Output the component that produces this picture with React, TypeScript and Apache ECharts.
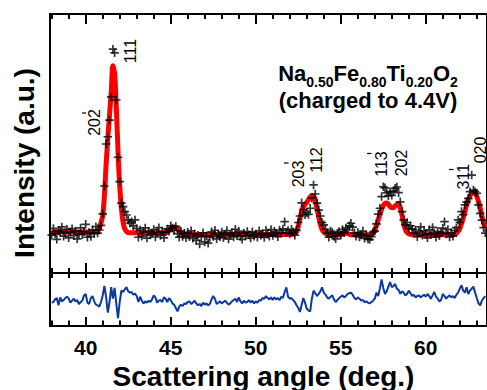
// XRD pattern with fit and difference curve (version 7)
import React, { useEffect, useRef } from "react";
import * as echarts from "echarts";

const xMin = 37.9;
const xMax = 63.6;
// Scan grid (deg.)
const angleStart = 38.0;
const angleStep = 0.1;

const majorTicks = [40, 45, 50, 55, 60];
const minorTicks = [38, 39, 41, 42, 43, 44, 46, 47, 48, 49, 51, 52, 53, 54, 56, 57, 58, 59, 61, 62, 63];
const allTicks = [38, 39, 40, 41, 42, 43, 44, 45, 46, 47, 48, 49, 50, 51, 52, 53, 54, 55, 56, 57, 58, 59, 60, 61, 62, 63];

// Observed intensity (a.u.), 38.0 .. 63.5 deg, one row per degree
const observed = [
  14.6, 17.2, 15.1, 13.0, 16.4, 15.9, 17.8, 14.2, 15.5, 16.9,
  13.6, 15.8, 17.1, 14.4, 16.2, 13.2, 15.0, 17.4, 14.8, 16.0,
  18.8, 13.8, 15.6, 14.1, 16.7, 15.2, 17.9, 15.4, 16.6, 18.4,
  22.8, 33.6, 49.8, 52.6, 59.0, 68.0, 86.4, 85.0, 66.8, 44.7,
  35.3, 27.0, 25.6, 23.7, 22.4, 20.4, 19.3, 19.8, 18.2, 20.5,
  17.2, 13.8, 16.6, 14.2, 15.9, 17.4, 13.5, 16.1, 14.7, 15.3,
  16.8, 13.9, 15.6, 17.5, 14.5, 16.0, 13.6, 15.8, 17.0, 16.1,
  18.2, 17.4, 16.4, 18.0, 15.2, 13.8, 16.2, 14.1, 15.4, 13.6,
  15.7, 14.0, 16.3, 13.4, 15.1, 12.6, 14.6, 11.2, 13.9, 15.5,
  12.0, 14.3, 11.5, 13.7, 15.9, 14.1, 16.5, 13.2, 15.0, 14.0,
  15.8, 13.6, 14.9, 16.4, 13.1, 14.8, 15.6, 13.9, 16.9, 14.4,
  16.2, 14.1, 13.0, 15.4, 14.3, 16.0, 14.7, 13.5, 15.9, 14.2,
  15.1, 13.8, 16.3, 14.6, 15.2, 13.7, 16.5, 15.0, 14.2, 16.8,
  14.5, 16.1, 15.3, 14.0, 16.6, 15.4, 17.0, 19.8, 15.6, 16.4,
  15.2, 16.9, 15.8, 14.6, 16.5, 19.5, 22.0, 27.1, 24.5, 22.5,
  23.3, 22.6, 25.0, 29.0, 34.0, 30.5, 27.0, 24.3, 22.0, 19.5,
  18.6, 16.9, 15.4, 13.8, 16.2, 15.6, 14.1, 13.2, 15.3, 16.0,
  14.6, 16.8, 15.5, 17.4, 16.6, 18.2, 19.2, 17.7, 15.4, 14.2,
  15.6, 13.9, 14.8, 16.2, 13.4, 14.5, 13.1, 12.9, 14.0, 15.8,
  16.2, 19.0, 22.7, 25.0, 29.5, 33.3, 32.9, 30.9, 29.8, 31.4,
  30.0, 31.6, 32.7, 33.2, 31.0, 27.5, 23.7, 20.5, 18.6, 19.5,
  17.2, 18.2, 17.0, 15.3, 16.6, 14.0, 15.9, 17.8, 14.6, 16.3,
  15.0, 13.6, 16.7, 14.9, 17.6, 15.4, 13.8, 16.1, 14.4, 15.7,
  17.3, 19.8, 15.1, 16.8, 13.9, 15.6, 14.2, 16.4, 17.5, 20.5,
  19.6, 23.7, 22.5, 26.3, 27.4, 28.8, 31.4, 37.8, 32.0, 31.4,
  30.8, 26.3, 23.0, 20.4, 17.5, 15.4,
];

// Calculated (fit) profile, same grid
const calculated = [
  15.8, 15.8, 15.8, 15.8, 15.8, 15.8, 15.8, 15.8, 15.8, 15.8,
  15.8, 15.8, 15.8, 15.8, 15.8, 15.8, 15.8, 15.8, 15.8, 15.8,
  15.8, 15.8, 15.8, 15.8, 15.8, 15.8, 15.9, 16.3, 17.3, 19.5,
  22.0, 30.0, 42.0, 52.0, 61.0, 70.0, 80.0, 77.0, 64.0, 47.0,
  33.5, 25.0, 19.5, 17.0, 16.0, 15.6, 15.5, 15.5, 15.5, 15.5,
  15.5, 15.5, 15.5, 15.5, 15.5, 15.5, 15.5, 15.5, 15.5, 15.5,
  15.5, 15.5, 15.5, 15.5, 15.5, 15.5, 15.5, 15.5, 15.8, 16.4,
  17.1, 17.6, 17.8, 17.7, 17.2, 16.4, 15.6, 15.1, 14.9, 14.9,
  14.9, 14.9, 14.9, 14.9, 14.9, 14.9, 14.9, 14.9, 14.9, 14.9,
  14.9, 14.9, 14.9, 14.9, 14.9, 14.9, 14.9, 14.9, 14.9, 14.9,
  14.9, 14.9, 14.9, 14.9, 14.9, 14.9, 14.9, 14.9, 14.9, 14.9,
  14.9, 14.9, 14.9, 14.9, 14.9, 14.9, 14.9, 14.9, 14.9, 14.9,
  14.9, 14.9, 14.9, 14.9, 14.9, 14.9, 14.9, 14.9, 14.9, 14.9,
  14.9, 14.9, 14.9, 14.9, 14.9, 14.9, 14.9, 14.9, 14.9, 14.9,
  14.9, 14.9, 15.0, 15.3, 16.0, 18.0, 21.0, 23.8, 25.6, 26.5,
  27.3, 28.3, 29.3, 30.0, 29.7, 28.0, 25.0, 21.8, 18.8, 16.8,
  15.8, 15.3, 15.0, 14.8, 14.8, 14.8, 14.8, 14.8, 14.8, 14.8,
  14.8, 15.0, 15.2, 15.3, 15.2, 15.0, 14.8, 14.8, 14.8, 14.8,
  14.8, 14.8, 14.8, 14.8, 14.8, 14.8, 14.8, 14.8, 14.8, 15.4,
  16.5, 18.3, 20.5, 22.6, 24.6, 26.0, 26.9, 27.0, 26.5, 25.7,
  25.2, 25.3, 25.9, 26.5, 26.6, 25.2, 22.5, 19.0, 16.8, 15.6,
  15.1, 14.9, 14.8, 14.8, 14.8, 14.8, 14.8, 14.8, 14.8, 14.8,
  14.8, 14.8, 14.8, 14.8, 14.8, 14.8, 14.8, 14.8, 14.8, 14.8,
  14.8, 14.8, 14.8, 14.8, 14.8, 14.8, 14.8, 15.0, 15.3, 16.0,
  17.2, 19.0, 21.2, 23.8, 26.2, 28.3, 29.8, 30.8, 31.2, 30.8,
  29.6, 27.5, 25.0, 22.0, 19.5, 17.5,
];

// Difference curve (lower panel), same grid
const difference = [
  -2.4, -1.9, 0.1, 1.1, -4.4, 1.6, -1.4, -0.4, 1.1, 2.1,
  0.6, -2.4, -0.9, 0.6, -1.4, -0.4, -3.4, -1.9, -0.9, 3.1,
  4.2, -2.4, -3.4, 1.1, 2.6, -1.4, -3.9, -4.4, -5.4, -1.9,
  3.1, 10.2, 1.9, -9.9, -1.9, 9.4, 0.6, 8.7, -3.1, -14.0,
  -1.9, 6.9, 5.7, 7.7, 9.4, 6.2, 5.2, 5.7, 3.6, 4.4,
  2.6, -1.9, 2.1, -0.9, -3.1, -1.4, -2.4, -0.9, -1.9, 0.1,
  3.1, 1.6, -2.4, -0.9, -0.4, -1.9, 1.6, 0.6, -1.9, 1.1,
  -0.4, -2.9, -3.9, -6.4, -8.9, -5.4, -3.9, -4.9, -2.9, -3.4,
  -1.9, -1.4, -3.4, -2.4, -0.9, -2.9, -4.4, -3.4, -4.9, -2.4,
  -3.9, -2.9, -4.4, -3.4, 0.1, 2.6, 0.6, -3.4, -2.4, -1.4,
  -2.9, -1.9, -0.9, -2.4, -3.9, -2.9, -1.4, -0.4, 0.6, -1.9,
  1.6, -1.4, -2.9, -0.9, -2.4, -1.9, -0.4, -2.4, -0.9, -2.9,
  -1.4, -2.4, -0.4, -0.9, 1.1, 0.6, 2.6, 1.1, 0.1, 1.6,
  -0.4, 1.6, 0.1, 1.1, -0.4, 2.1, 1.1, 5.7, 9.2, 2.1,
  0.6, 1.1, -0.4, -1.9, -4.4, -6.4, -9.4, -3.9, 1.1, -2.4,
  -6.9, -8.4, -8.9, 0.6, 6.7, 4.7, 2.6, 4.2, 6.2, 9.2,
  5.2, 3.6, 1.6, 0.6, 2.1, 3.1, 0.1, -1.9, -0.4, 1.1,
  2.1, 3.1, 1.6, 2.6, 4.2, 4.7, 5.2, 3.6, 1.1, 0.1,
  1.6, 0.6, -0.9, -0.4, -1.9, -1.4, -2.4, -2.9, -1.9, -0.9,
  0.6, 5.2, 2.6, 8.2, 15.2, 8.7, 4.2, 6.2, 9.7, 13.2,
  9.2, 10.2, 11.7, 8.2, 7.2, 4.2, 6.2, 5.2, 3.1, 4.2,
  6.7, 4.7, 2.6, 3.6, 1.6, 2.6, 3.1, 1.6, 2.6, 3.6,
  2.1, 4.2, 2.6, 0.6, 3.1, 5.7, 2.1, 0.6, -1.4, -0.4,
  4.2, 2.6, 0.6, 2.1, 3.1, 1.6, 2.6, 1.1, 3.6, 5.2,
  8.2, 10.7, 6.7, 5.2, 9.2, 4.2, 6.7, 8.2, 9.7, 5.2,
  1.1, -2.9, -4.4, -0.9, 1.1, 2.6,
];

// Reflection labels and whether the last index is overbarred
const reflections = ["111", "202", "203", "112", "113", "202", "311", "020"];
const reflectionBar = [false, true, true, false, true, false, true, false];

// Annotation layout (pixels)
const reflectionPos = [
  [130, 51], [94.5, 122.5], [298.5, 174], [316, 160],
  [381, 164], [401.7, 163], [463, 176.7], [480, 150],
];
const barPos = [null, [82, 86, 113], [284, 288.5, 163], null, [367, 371.5, 153.5], null, [449, 453.5, 169.5], null];

const FONT = '"Liberation Sans", Arial, Helvetica, sans-serif';
const plusSymbol = "path://M4,0H6V4H10V6H6V10H4V6H0V4H4Z";

function tickAxis(gridIndex: number, position: string, values: number[], len: number, labels: boolean) {
  return {
    type: "value",
    gridIndex,
    position,
    min: xMin,
    max: xMax,
    axisLine: { show: false, onZero: false },
    axisTick: { show: true, inside: true, length: len, customValues: values, lineStyle: { color: "#000", width: 2 } },
    axisLabel: labels
      ? { show: true, customValues: majorTicks, margin: 11, color: "#000", fontSize: 21, fontWeight: "bold", fontFamily: FONT }
      : { show: false },
    splitLine: { show: false },
  };
}

export default function App() {
  const ref = useRef<HTMLDivElement>(null);
  useEffect(() => {
    if (!ref.current) return;
    const chart = echarts.init(ref.current, null, { renderer: "svg" });
    const angle = (i: number) => Math.round((angleStart + i * angleStep) * 10) / 10;
    const obsData = observed.map((v, i) => [angle(i), v]);
    const calcData = calculated.map((v, i) => [angle(i), v]);
    const diffData = difference.map((v, i) => [angle(i), v]);

    const graphics: any[] = [];
    reflections.forEach((t, i) => {
      graphics.push({
        type: "text",
        x: reflectionPos[i][0],
        y: reflectionPos[i][1],
        rotation: Math.PI / 2,
        style: { text: t, font: `16px ${FONT}`, fill: "#000", align: "center", verticalAlign: "middle" },
      });
      const b = barPos[i];
      if (reflectionBar[i] && b) {
        graphics.push({
          type: "line",
          shape: { x1: b[0], y1: b[2], x2: b[1], y2: b[2] },
          style: { stroke: "#000", lineWidth: 1.2 },
        });
      }
    });
    graphics.push({
      type: "text",
      x: 368,
      y: 62,
      style: {
        text: "{b|Na}{s|0.50}{b|Fe}{s|0.80}{b|Ti}{s|0.20}{b|O}{s|2}\n{b|(charged to 4.4V)}",
        align: "center",
        verticalAlign: "top",
        fill: "#000",
        rich: {
          b: { fontSize: 22, fontWeight: "bold", fontFamily: FONT, lineHeight: 27, verticalAlign: "top", fill: "#000" },
          s: { fontSize: 14, fontWeight: "bold", fontFamily: FONT, lineHeight: 10, verticalAlign: "bottom", fill: "#000" },
        },
      },
    });
    graphics.push({
      type: "text", x: 24, y: 163, rotation: Math.PI / 2,
      style: { text: "Intensity (a.u.)", font: `bold 28px ${FONT}`, fill: "#000", align: "center", verticalAlign: "middle" },
    });
    graphics.push({
      type: "text", x: 263.5, y: 376,
      style: { text: "Scattering angle (deg.)", font: `bold 28px ${FONT}`, fill: "#000", align: "center", verticalAlign: "middle" },
    });

    chart.setOption({
      animation: false,
      backgroundColor: "#fff",
      grid: [
        { left: 50, top: 14, width: 439, height: 259, show: true, borderColor: "#000", borderWidth: 2 },
        { left: 50, top: 273, width: 439, height: 53, show: true, borderColor: "#000", borderWidth: 2 },
      ],
      xAxis: [
        tickAxis(0, "top", majorTicks, 10, false),
        tickAxis(0, "bottom", majorTicks, 10, false),
        tickAxis(1, "bottom", majorTicks, 9, true),
        tickAxis(1, "top", allTicks, 5, false),
        tickAxis(0, "top", minorTicks, 5, false),
        tickAxis(0, "bottom", minorTicks, 5, false),
        tickAxis(1, "bottom", minorTicks, 5.5, false),
      ],
      yAxis: [
        { type: "value", gridIndex: 0, min: 0, max: 100, show: false },
        { type: "value", gridIndex: 1, min: -20, max: 20, show: false },
      ],
      series: [
        {
          type: "line", xAxisIndex: 0, yAxisIndex: 0, data: calcData,
          showSymbol: false, smooth: 0.3, z: 2,
          lineStyle: { color: "#ff0000", width: 5 },
        },
        {
          type: "scatter", xAxisIndex: 0, yAxisIndex: 0, data: obsData,
          symbol: plusSymbol, symbolSize: 8.5, z: 3,
          itemStyle: { color: "#000" },
        },
        {
          type: "line", xAxisIndex: 2, yAxisIndex: 1, data: diffData,
          showSymbol: false, z: 2,
          lineStyle: { color: "#0a3a9e", width: 2 },
        },
      ],
      graphic: graphics,
    });
    return () => chart.dispose();
  }, []);
  return <div ref={ref} style={{ position: "fixed", left: 0, top: 0, width: 487, height: 390 }} />;
}
